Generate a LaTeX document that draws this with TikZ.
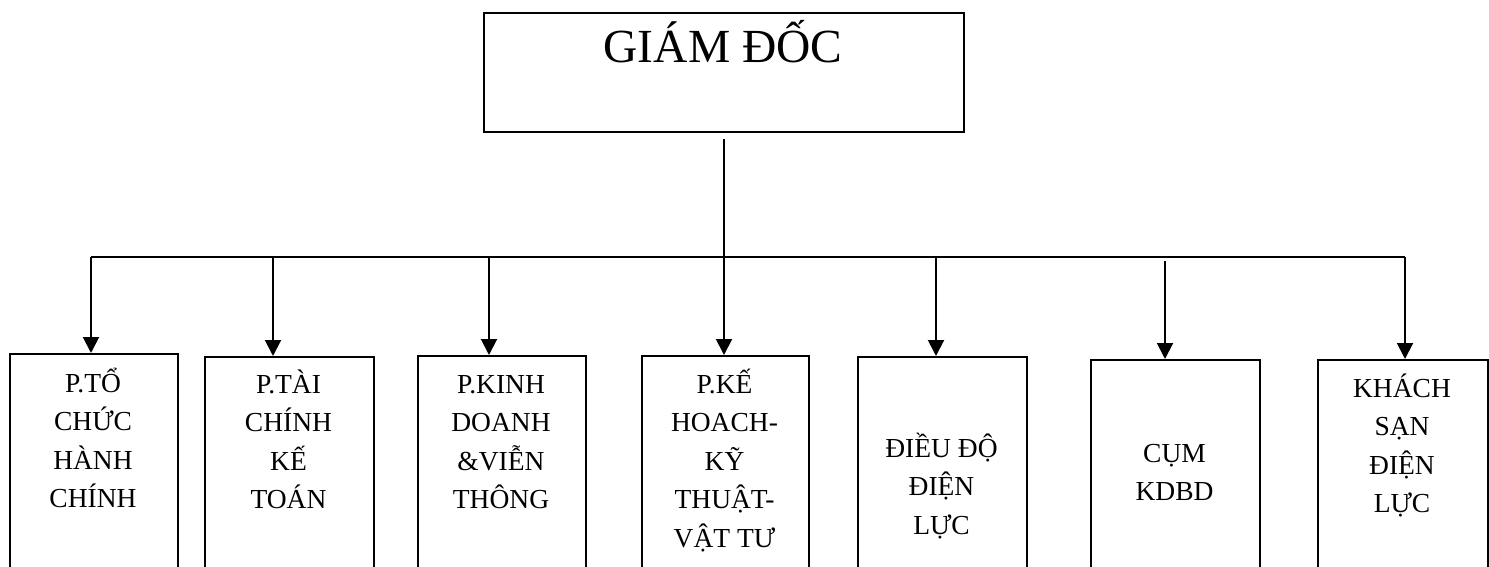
\documentclass[tikz,border=0pt]{standalone}
\usepackage{fontspec}
\setmainfont{Liberation Serif}
\usetikzlibrary{arrows.meta}
\newcommand\toprule{\rule{0pt}{30pt}}
\begin{document}
\begin{tikzpicture}[x=1pt,y=-1pt,
  unitbox/.style={draw, line width=2pt, rectangle, inner sep=0pt, anchor=north west, minimum height=320pt},
  unitlabel/.style={anchor=north, inner sep=0pt, align=center, font=\fontsize{27.5}{38.5}\selectfont},
  link/.style={line width=2pt},
  arr/.style={line width=2pt, -{Triangle[length=16pt,width=16pt]}}]
\useasboundingbox (0,0) rectangle (1489,567);
\clip (0,0) rectangle (1489,567);

% director
\node[draw, line width=2pt, anchor=north west, minimum width=480pt, minimum height=119pt, inner sep=0pt] (gd) at (483,12) {};
\node[anchor=base, inner sep=0pt, font=\fontsize{47.5}{58}\selectfont] (gdt) at (723,63) {GIÁM ĐỐC};

% departments
\node[unitbox, minimum width=168pt] (b1) at (9,353) {};
\node[unitbox, minimum width=169pt] (b2) at (204,356) {};
\node[unitbox, minimum width=168pt] (b3) at (417,355) {};
\node[unitbox, minimum width=167pt] (b4) at (641,355) {};
\node[unitbox, minimum width=169pt] (b5) at (857,356) {};
\node[unitbox, minimum width=169pt] (b6) at (1090,359) {};
\node[unitbox, minimum width=170pt] (b7) at (1317,359) {};

\node[unitlabel] (l1) at (93,362) {\toprule P.TỔ\\CHỨC\\HÀNH\\CHÍNH};
\node[unitlabel] (l2) at (288.5,363) {\toprule P.TÀI\\CHÍNH\\KẾ\\TOÁN};
\node[unitlabel] (l3) at (501,363) {\toprule P.KINH\\DOANH\\\&VIỄN\\THÔNG};
\node[unitlabel] (l4) at (724.5,363) {\toprule P.KẾ\\HOACH-\\KỸ\\THUẬT-\\VẬT TƯ};
\node[unitlabel] (l5) at (941.5,427) {\toprule ĐIỀU ĐỘ\\ĐIỆN\\LỰC};
\node[unitlabel] (l6) at (1174.5,432) {\toprule CỤM\\KDBD};
\node[unitlabel] (l7) at (1402,367) {\toprule KHÁCH\\SẠN\\ĐIỆN\\LỰC};

% bus
\coordinate (t1) at (91,257);
\coordinate (t2) at (273,257);
\coordinate (t3) at (489,257);
\coordinate (t5) at (936,257);
\coordinate (t6) at (1165,257);
\coordinate (t7) at (1405,257);
\draw[link] (t1) -- (t7);

\draw[arr] ([yshift=-6pt]gd.south) -- (gd.south |- b4.north);
\draw[arr] (t1) -- (t1 |- b1.north);
\draw[arr] (t2) -- (t2 |- b2.north);
\draw[arr] (t3) -- (t3 |- b3.north);
\draw[arr] (t5) -- (t5 |- b5.north);
\draw[arr] ([yshift=-4pt]t6) -- (t6 |- b6.north);
\draw[arr] (t7) -- (t7 |- b7.north);
\end{tikzpicture}
\end{document}
